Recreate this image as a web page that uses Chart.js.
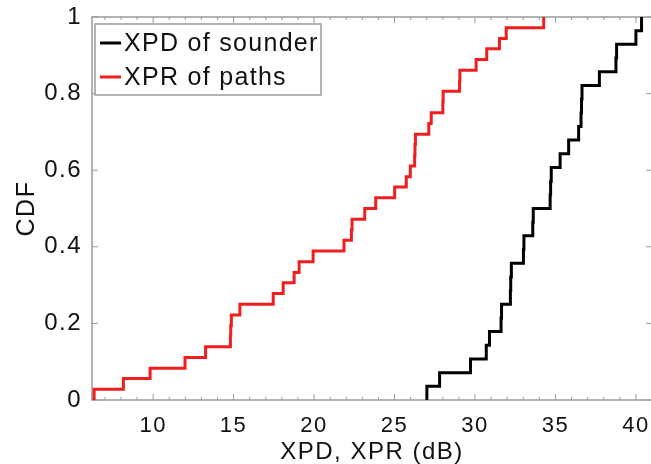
<!DOCTYPE html>
<html lang="en">
<head>
  <meta charset="UTF-8" />
  <title>XPD / XPR CDF</title>
  <script src="https://cdn.jsdelivr.net/npm/chart.js"></script>
  <style>
    html, body { margin: 0; padding: 0; background: #fff; overflow: hidden; }
    #wrap { width: 652px; height: 464px; }
  </style>
</head>
<body>
  <div id="wrap">
    <canvas id="cdfChart" width="652" height="464"></canvas>
  </div>

  <script>
    // sample values (dB), sorted, and their CDF levels
    const xpdSounder = [27.01, 27.8, 29.72, 30.7, 30.9, 31.62, 31.65, 32.2, 32.22, 32.26,
      33.01, 33.04, 33.59, 33.62, 34.67, 34.7, 34.74, 35.29, 35.82, 36.44,
      36.59, 36.62, 36.65, 37.73, 38.76, 38.8, 40.0, 40.35];
    const xpdCdf = [0.036, 0.071, 0.107, 0.143, 0.179, 0.214, 0.25, 0.286, 0.321, 0.357,
      0.393, 0.429, 0.464, 0.5, 0.536, 0.571, 0.607, 0.643, 0.679, 0.714,
      0.75, 0.786, 0.821, 0.857, 0.893, 0.929, 0.964, 1];

    const xprPaths = [6.33, 8.15, 9.81, 11.98, 13.26, 14.8, 14.82, 14.86, 15.39, 17.46,
      18.08, 18.76, 19.07, 19.94, 21.86, 22.32, 22.36, 23.15, 23.83, 25.01,
      25.73, 25.98, 26.25, 26.27, 26.3, 27.13, 27.28, 28.0, 28.02, 29.04,
      29.06, 30.07, 30.73, 31.52, 31.94, 34.27];
    const xprCdf = [0.028, 0.056, 0.083, 0.111, 0.139, 0.167, 0.194, 0.222, 0.25, 0.278,
      0.306, 0.333, 0.361, 0.389, 0.417, 0.444, 0.472, 0.5, 0.528, 0.556,
      0.583, 0.611, 0.639, 0.667, 0.694, 0.722, 0.75, 0.778, 0.806, 0.833,
      0.861, 0.889, 0.917, 0.944, 0.972, 1];

    const xTicks = [10, 15, 20, 25, 30, 35, 40];
    const yTicks = [0, 0.2, 0.4, 0.6, 0.8, 1];
    const xMinor = [];
    for (let v = 7; v <= 41; v++) if (v % 5) xMinor.push(v);

    const FONT = "'Liberation Sans', Arial, Helvetica, sans-serif";
    const FRAME = "#9a9a9a";

    function stairs(xs, ys) {
      const pts = [{ x: xs[0], y: 0 }];
      xs.forEach((x, i) => pts.push({ x: x, y: ys[i] }));
      return pts;
    }

    // the reference text is a bit wide, spread letters a little
    const spacingPlugin = {
      id: "spacing",
      beforeDraw(chart) { chart.ctx.letterSpacing = "1.5px"; },
      afterDraw(chart) { chart.ctx.letterSpacing = "0px"; }
    };

    // box around the axes with inward ticks, matlab style
    const framePlugin = {
      id: "frame",
      beforeDatasetsDraw(chart) {
        const { ctx, chartArea: a, scales } = chart;
        ctx.save();
        ctx.strokeStyle = FRAME;
        ctx.lineWidth = 1.5;
        ctx.strokeRect(a.left, a.top, a.right - a.left, a.bottom - a.top);
        ctx.lineWidth = 1;
        ctx.beginPath();
        xTicks.forEach(v => {
          const px = scales.x.getPixelForValue(v);
          ctx.moveTo(px, a.bottom); ctx.lineTo(px, a.bottom - 6);
          ctx.moveTo(px, a.top); ctx.lineTo(px, a.top + 6);
        });
        xMinor.forEach(v => {
          const px = scales.x.getPixelForValue(v);
          ctx.moveTo(px, a.bottom); ctx.lineTo(px, a.bottom - 3);
          ctx.moveTo(px, a.top); ctx.lineTo(px, a.top + 3);
        });
        yTicks.forEach(v => {
          const py = scales.y.getPixelForValue(v);
          ctx.moveTo(a.left, py); ctx.lineTo(a.left + 6, py);
          ctx.moveTo(a.right, py); ctx.lineTo(a.right - 6, py);
        });
        ctx.stroke();
        ctx.restore();
      }
    };

    // legend box in the top-left corner
    const legendPlugin = {
      id: "boxLegend",
      afterDraw(chart) {
        const { ctx, chartArea: a } = chart;
        const x0 = a.left + 3, y0 = a.top + 7, w = 226, h = 71;
        ctx.save();
        ctx.fillStyle = "#fff";
        ctx.fillRect(x0, y0, w, h);
        ctx.strokeStyle = FRAME;
        ctx.lineWidth = 1.5;
        ctx.strokeRect(x0, y0, w, h);
        ctx.font = "25px " + FONT;
        ctx.letterSpacing = "1.3px";
        ctx.textBaseline = "middle";
        chart.data.datasets.forEach((ds, i) => {
          const cy = y0 + 19 + i * 34;
          ctx.strokeStyle = ds.borderColor;
          ctx.lineWidth = 3;
          ctx.beginPath();
          ctx.moveTo(x0 + 5, cy);
          ctx.lineTo(x0 + 26, cy);
          ctx.stroke();
          ctx.fillStyle = "#111";
          ctx.fillText(ds.label, x0 + 29, cy + 1);
        });
        ctx.restore();
      }
    };

    new Chart(document.getElementById("cdfChart"), {
      type: "line",
      data: {
        datasets: [
          {
            label: "XPD of sounder",
            data: stairs(xpdSounder, xpdCdf),
            borderColor: "#000000",
            borderWidth: 3,
            stepped: "before",
            pointRadius: 0,
            fill: false
          },
          {
            label: "XPR of paths",
            data: stairs(xprPaths, xprCdf),
            borderColor: "#f01e1e",
            borderWidth: 3,
            stepped: "before",
            pointRadius: 0,
            fill: false
          }
        ]
      },
      options: {
        responsive: false,
        animation: false,
        layout: { autoPadding: false, padding: { top: 17, left: 0, right: 0, bottom: 0 } },
        plugins: {
          legend: { display: false },
          tooltip: { enabled: false }
        },
        scales: {
          x: {
            type: "linear",
            min: 6.2,
            max: 41,
            afterFit: s => { s.height = 64; s.paddingLeft = 0; s.paddingRight = 0; },
            afterBuildTicks: s => { s.ticks = xTicks.map(v => ({ value: v })); },
            grid: { display: false, drawTicks: false },
            border: { display: false },
            ticks: { color: "#111", padding: 13, font: { family: FONT, size: 22 } },
            title: {
              display: true,
              text: "XPD, XPR (dB)",
              color: "#111",
              padding: { top: 0, bottom: 0 },
              font: { family: FONT, size: 24, lineHeight: 1 }
            }
          },
          y: {
            min: 0,
            max: 1,
            afterFit: s => { s.width = 92; s.paddingTop = 0; s.paddingBottom = 0; },
            afterBuildTicks: s => { s.ticks = yTicks.map(v => ({ value: v })); },
            grid: { display: false, drawTicks: false },
            border: { display: false },
            ticks: {
              color: "#111",
              padding: 10,
              font: { family: FONT, size: 24 },
              callback: v => String(v)
            },
            title: {
              display: true,
              text: "CDF",
              color: "#111",
              padding: { top: 12, bottom: 0 },
              font: { family: FONT, size: 25, lineHeight: 1.2 }
            }
          }
        }
      },
      plugins: [spacingPlugin, framePlugin, legendPlugin]
    });
  </script>
</body>
</html>
